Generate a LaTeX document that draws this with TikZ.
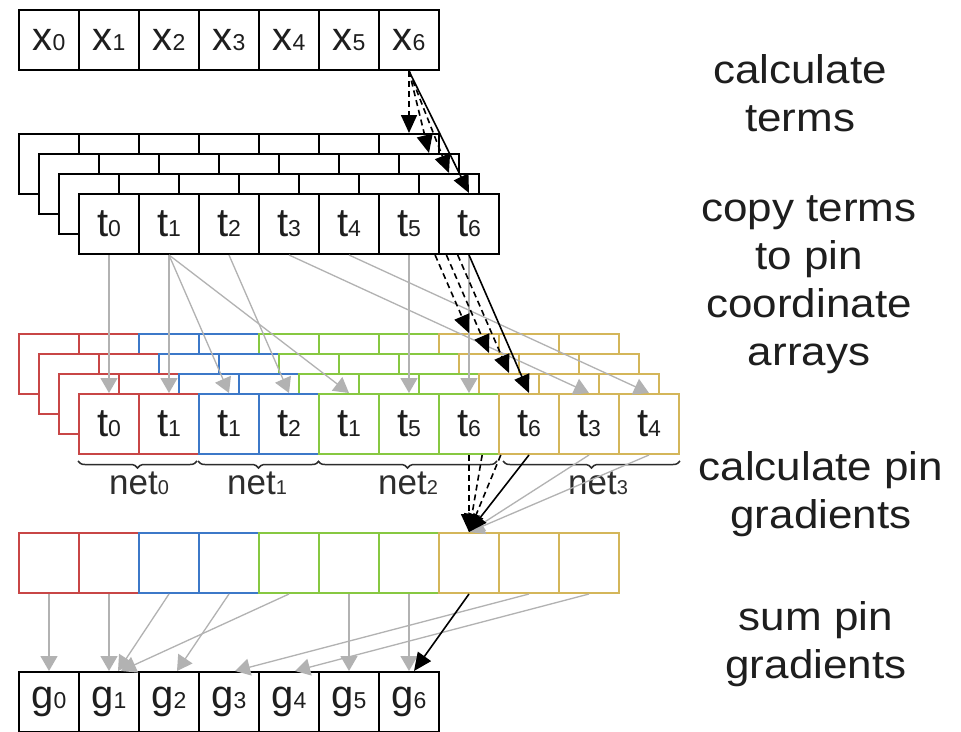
\documentclass[tikz,border=0pt]{standalone}
\usepackage{fontspec}
\setmainfont{Liberation Sans}
\newfontfamily\stepfont{Liberation Sans}[FakeStretch=1.1]
\usetikzlibrary{arrows.meta,decorations.pathreplacing,calc}
\definecolor{cred}{RGB}{200,70,70}
\definecolor{cblue}{RGB}{60,120,200}
\definecolor{cgreen}{RGB}{135,200,65}
\definecolor{cgold}{RGB}{212,182,90}
\definecolor{arrgray}{RGB}{178,178,178}
\definecolor{txtdark}{RGB}{30,30,30}
\definecolor{netdark}{RGB}{45,45,45}
\newcommand\sbs[1]{{\fontsize{23}{23}\selectfont #1}}
\newcommand\sbn[1]{{\fontsize{20}{20}\selectfont #1}}
\tikzset{
  cell/.style={draw=black, line width=2pt, fill=white, minimum width=60pt,
    minimum height=60pt, inner sep=0pt, anchor=north west,
    font=\fontsize{40}{40}\selectfont, text=txtdark},
  garrow/.style={draw=arrgray, line width=1.3pt, -{Triangle[length=15pt,width=17pt]}},
  barrow/.style={draw=black, line width=1.6pt, -{Triangle[length=18pt,width=16pt]}},
  bdash/.style={barrow, dash pattern=on 6pt off 4pt},
  netbrace/.style={draw=netdark, line width=1.5pt, decorate,
    decoration={brace, mirror, amplitude=7pt}},
  netlbl/.style={font=\fontsize{35}{35}\selectfont, text=netdark, inner sep=0pt},
  steplbl/.style={font=\stepfont\fontsize{40}{48}\selectfont, text=txtdark, align=center, inner sep=0pt}
}
\begin{document}
\begin{tikzpicture}[x=1pt,y=-1pt]
\useasboundingbox[fill=white] (0,0) rectangle (961,731);

% x row
\foreach \i in {0,...,6}
  \node[cell] (x\i) at ({18+60*\i},9) {x\sbs{\i}};

% term arrays (back to front)
\foreach \L/\d in {A/0,B/20,C/40}
  \foreach \i in {0,...,6}
    \node[cell] (t\L\i) at ({18+\d+60*\i},{133+\d}) {};
\foreach \i in {0,...,6}
  \node[cell] (t\i) at ({78+60*\i},193) {t\sbs{\i}};

% pin coordinate arrays (back to front)
\foreach \L/\d in {A/0,B/20,C/40}
  \foreach \i/\c in {0/cred,1/cred,2/cblue,3/cblue,4/cgreen,5/cgreen,6/cgreen,7/cgold,8/cgold,9/cgold}
    \node[cell,draw=\c] (c\L\i) at ({18+\d+60*\i},{333+\d}) {};
\foreach \i/\c/\s in {0/cred/0,1/cred/1,2/cblue/1,3/cblue/2,4/cgreen/1,5/cgreen/5,6/cgreen/6,7/cgold/6,8/cgold/3,9/cgold/4}
  \node[cell,draw=\c] (c\i) at ({78+60*\i},393) {t\sbs{\s}};

% pin gradients
\foreach \i/\c in {0/cred,1/cred,2/cblue,3/cblue,4/cgreen,5/cgreen,6/cgreen,7/cgold,8/cgold,9/cgold}
  \node[cell,draw=\c] (p\i) at ({18+60*\i},532) {};

% gradients
\foreach \i in {0,...,6}
  \node[cell] (g\i) at ({18+60*\i},671) {g\sbs{\i}};

% braces and net labels
\draw[netbrace] ([xshift=0pt,yshift=-6pt]c0.south west) -- ([xshift=-3pt,yshift=-6pt]c1.south east);
\draw[netbrace] ([xshift=0pt,yshift=-6pt]c2.south west) -- ([xshift=-1pt,yshift=-6pt]c3.south east);
\draw[netbrace] ([xshift=0pt,yshift=-6pt]c4.south west) -- ([xshift=-3pt,yshift=-6pt]c6.south east);
\draw[netbrace] ([xshift=5pt,yshift=-6pt]c7.south west) -- ([xshift=0pt,yshift=-6pt]c9.south east);
\node[netlbl] (n0) at (139,483) {net\sbn{0}};
\node[netlbl] (n1) at (257,483) {net\sbn{1}};
\node[netlbl] (n2) at (408,483) {net\sbn{2}};
\node[netlbl] (n3) at (598,483) {net\sbn{3}};

% calculate terms
\draw[bdash] (x6.south) -- (tA6.north);
\draw[bdash] (x6.south) -- (tB6.north);
\draw[bdash] (x6.south) -- (tC6.north);
\draw[barrow] (x6.south) -- (t6.north);

% copy terms
\draw[garrow] (t0.south) -- (c0.north);
\draw[garrow] (t1.south) -- (c1.north);
\draw[garrow] (t1.south) -- (c2.north);
\draw[garrow] (t1.south) -- (c4.north);
\draw[garrow] (t2.south) -- (c3.north);
\draw[garrow] (t5.south) -- (c5.north);
\draw[garrow] (t6.south) -- (c6.north);
\draw[garrow] (t3.south) -- (c8.north);
\draw[garrow] (t4.south) -- (c9.north);
\coordinate (sA) at (intersection of tA6.south--cA7.north and t0.south west--t6.south east);
\coordinate (sB) at (intersection of tB6.south--cB7.north and t0.south west--t6.south east);
\coordinate (sC) at (intersection of tC6.south--cC7.north and t0.south west--t6.south east);
\draw[bdash] (sA) -- (cA7.north);
\draw[bdash] (sB) -- (cB7.north);
\draw[bdash] (sC) -- (cC7.north);
\draw[barrow] (t6.south) -- (c7.north);

% calculate pin gradients
\draw[garrow] (c8.south) -- (p7.north);
\draw[garrow] (c9.south) -- (p7.north);
\coordinate (uA) at (intersection of cA7.south--p7.north and c0.south west--c9.south east);
\coordinate (uB) at (intersection of cB7.south--p7.north and c0.south west--c9.south east);
\coordinate (uC) at (intersection of cC7.south--p7.north and c0.south west--c9.south east);
\draw[bdash] (uA) -- (p7.north);
\draw[bdash] (uB) -- (p7.north);
\draw[bdash] (uC) -- (p7.north);
\draw[barrow] (c7.south) -- (p7.north);

% sum pin gradients
\draw[garrow] (p0.south) -- (g0.north);
\draw[garrow] (p1.south) -- (g1.north);
\draw[garrow] (p2.south) -- ([xshift=9pt]g1.north);
\draw[garrow] (p4.south) -- ([xshift=12pt]g1.north);
\draw[garrow] (p3.south) -- ([xshift=8pt]g2.north);
\draw[garrow] (p8.south) -- ([xshift=6pt]g3.north);
\draw[garrow] (p9.south) -- ([xshift=6pt]g4.north);
\draw[garrow] (p5.south) -- (g5.north);
\draw[garrow] (p6.south) -- (g6.north);
\draw[barrow] (p7.south) -- ([xshift=5pt]g6.north);

% step labels
\node[steplbl] (s1) at (800,93) {calculate\\terms};
\node[steplbl] (s2) at (809,285) {copy terms\\to pin\\coordinate\\arrays};
\node[steplbl] (s3) at (821,494) {calculate pin\\gradients};
\node[steplbl] (s4) at (816,644) {sum pin\\gradients};
\end{tikzpicture}
\end{document}
